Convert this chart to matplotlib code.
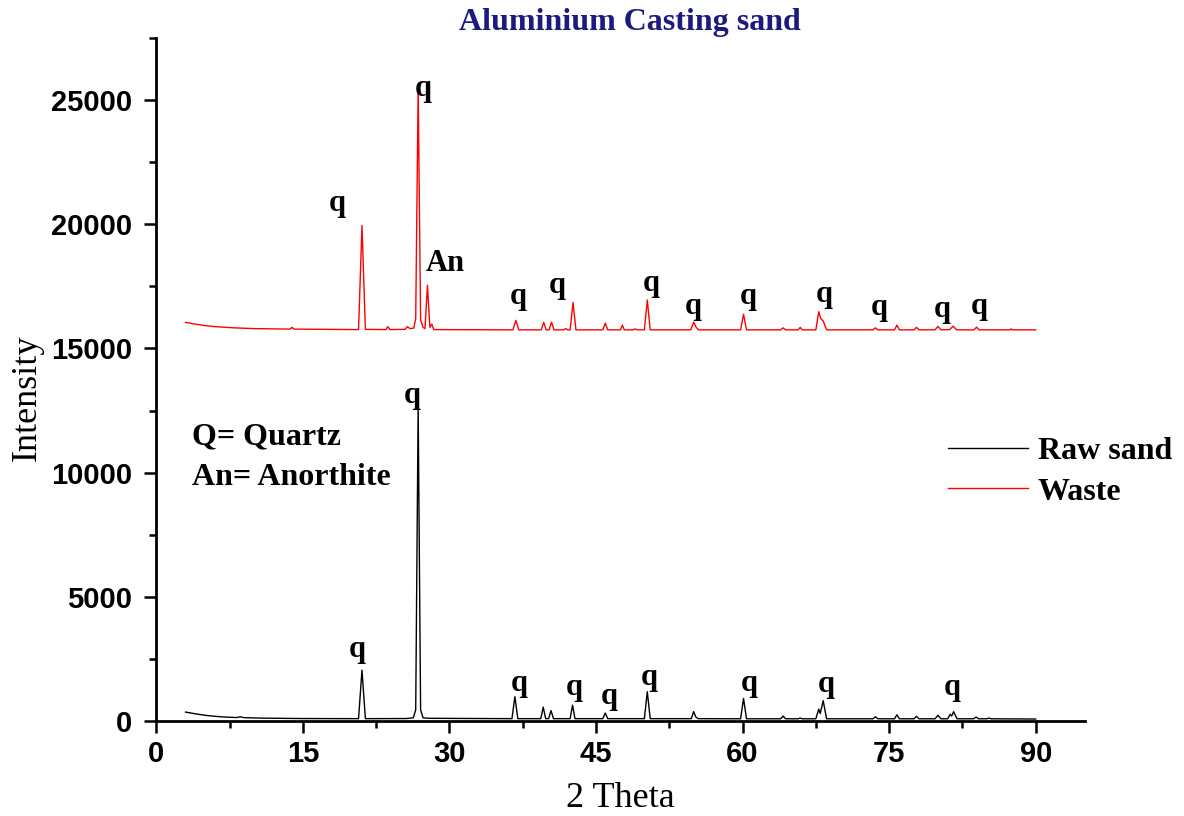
import matplotlib
matplotlib.use('Agg')
import matplotlib.pyplot as plt
from matplotlib.ticker import MultipleLocator

# XRD pattern of raw sand (black), vertices
raw_2theta = [3.0, 4.0, 5.0, 6.0, 7.0, 8.2, 8.6, 9.0, 11.0, 15.0,
              20.7, 21.05, 21.4, 25.6, 26.3, 26.55, 26.8, 27.05, 27.3, 27.8,
              36.4, 36.7, 37.0, 39.35, 39.6, 39.85, 40.15, 40.4, 40.65,
              42.35, 42.6, 42.85, 45.7, 45.95, 46.2, 49.95, 50.25, 50.55,
              54.75, 55.0, 55.2, 55.45, 59.8, 60.1, 60.4, 63.9, 64.15, 64.4,
              65.7, 65.9, 66.1, 67.5, 67.8, 67.95, 68.25, 68.6,
              73.35, 73.6, 73.85, 75.55, 75.8, 76.05, 77.55, 77.8, 78.05,
              79.7, 80.0, 80.3, 81.0, 81.25, 81.4, 81.6, 81.95,
              83.65, 83.9, 84.15, 85.0, 85.2, 85.4, 90.0]
raw_counts = [360, 290, 230, 190, 160, 140, 170, 135, 115, 100,
              95, 2050, 95, 100, 130, 450, 12700, 450, 130, 110,
              95, 980, 95, 95, 560, 95, 95, 420, 95,
              95, 640, 95, 95, 320, 95, 95, 1180, 95,
              95, 380, 170, 95, 90, 910, 90, 90, 200, 90,
              90, 120, 90, 90, 480, 300, 820, 90,
              90, 170, 90, 90, 250, 90, 90, 190, 90,
              90, 230, 90, 90, 270, 200, 375, 90,
              90, 160, 90, 90, 120, 90, 80]

# XRD pattern of the waste sand (red)
waste_2theta = [3.0, 4.0, 5.0, 6.0, 8.0, 10.0, 13.7, 13.9, 14.1,
                20.7, 21.05, 21.4, 23.5, 23.7, 23.9, 25.45, 25.7, 25.95,
                26.35, 26.55, 26.8, 27.05, 27.3, 27.5, 27.75, 28.0, 28.2, 28.4,
                36.5, 36.8, 37.1, 39.4, 39.65, 39.9, 40.2, 40.45, 40.7,
                41.7, 41.9, 42.1, 42.35, 42.65, 42.95, 45.7, 45.95, 46.2,
                47.5, 47.7, 47.9, 48.8, 49.0, 49.2, 49.95, 50.25, 50.55,
                54.7, 55.0, 55.25, 55.5, 59.8, 60.1, 60.4, 63.9, 64.15, 64.4,
                65.7, 65.9, 66.1, 67.5, 67.8, 68.0, 68.25, 68.6,
                73.35, 73.6, 73.85, 75.55, 75.8, 76.05, 77.55, 77.8, 78.05,
                79.7, 80.0, 80.3, 81.2, 81.55, 81.9, 83.7, 83.95, 84.2,
                87.4, 87.5, 87.6, 90.0]
waste_counts = [16050, 15980, 15920, 15880, 15830, 15800, 15780, 15850, 15780,
                15760, 19950, 15770, 15760, 15880, 15760, 15770, 15880, 15800,
                15820, 16200, 25500, 16150, 15850, 15800, 17550, 15850, 15980, 15760,
                15750, 16130, 15750, 15750, 16050, 15750, 15750, 16060, 15750,
                15750, 15800, 15750, 15750, 16850, 15750, 15750, 16020, 15750,
                15750, 15940, 15750, 15750, 15790, 15750, 15750, 16950, 15750,
                15750, 16060, 15850, 15750, 15750, 16380, 15750, 15750, 15830, 15750,
                15750, 15850, 15750, 15750, 16480, 16200, 16110, 15750,
                15750, 15830, 15750, 15750, 15940, 15750, 15750, 15850, 15750,
                15750, 15890, 15750, 15760, 15900, 15750, 15750, 15860, 15750,
                15750, 15790, 15750, 15750]

# phase labels (text, 2theta, intensity)
waste_labels = [('q', 18.55, 20855), ('q', 27.33, 25485), ('An', 29.59, 18440),
                ('q', 37.03, 17110), ('q', 41.03, 17550), ('q', 50.62, 17630),
                ('q', 54.91, 16700), ('q', 60.53, 17110), ('q', 68.40, 17190),
                ('q', 74.02, 16630), ('q', 80.46, 16550), ('q', 84.24, 16710)]
raw_labels = [('q', 26.21, 13125), ('q', 20.59, 2860), ('q', 37.14, 1530),
              ('q', 42.76, 1330), ('q', 46.33, 970), ('q', 50.41, 1770),
              ('q', 60.63, 1530), ('q', 68.60, 1490), ('q', 81.47, 1330)]

serif = ['Liberation Serif', 'DejaVu Serif']
sans = ['Liberation Sans', 'DejaVu Sans']

fig = plt.figure(figsize=(11.84, 8.16), dpi=100)
ax = fig.add_axes([0.132, 0.1164, 0.784, 0.837])

ax.plot(raw_2theta, raw_counts, color='black', lw=1.0, label='Raw sand')
ax.plot(waste_2theta, waste_counts, color='red', lw=1.0, label='Waste')

for txt, x, y in waste_labels + raw_labels:
    ax.text(x, y, txt, ha='center', va='center', fontsize=22,
            fontweight='bold', family=serif)

ax.text(3.7, 11435, 'Q= Quartz', ha='left', va='center', fontsize=23,
        fontweight='bold', family=serif)
ax.text(3.7, 9825, 'An= Anorthite', ha='left', va='center', fontsize=23,
        fontweight='bold', family=serif)

ax.set_xlim(0, 95)
ax.set_ylim(0, 27500)
ax.xaxis.set_major_locator(MultipleLocator(15))
ax.xaxis.set_minor_locator(MultipleLocator(7.5))
ax.yaxis.set_major_locator(MultipleLocator(5000))
ax.yaxis.set_minor_locator(MultipleLocator(2500))

for s in ['top', 'right']:
    ax.spines[s].set_visible(False)
for s in ['left', 'bottom']:
    ax.spines[s].set_linewidth(2.0)

ax.tick_params(which='major', direction='out', length=8.5, width=1.8)
ax.tick_params(which='minor', direction='out', length=5, width=1.8)
ax.tick_params(axis='y', which='major', pad=9)
ax.tick_params(axis='x', which='major', pad=5)
for lab in ax.get_xticklabels() + ax.get_yticklabels():
    lab.set_fontfamily(sans)
    lab.set_fontweight('bold')
    lab.set_fontsize(21)

ax.set_xlabel('2 Theta', fontsize=26, family=serif)
ax.xaxis.set_label_coords(0.5, -0.089)
fig.text(27 / 1184, 1 - 398 / 816, 'Intensity', rotation=90, ha='center',
         va='center', fontsize=26, family=serif)

fig.text(0.532, 0.973, 'Aluminium Casting sand', ha='center', va='center',
         fontsize=23, fontweight='bold', color='#1a1a80', family=serif)

leg = ax.legend(loc='center left', bbox_to_anchor=(0.853, 0.365), frameon=False,
                prop={'family': serif, 'weight': 'bold', 'size': 23},
                handlelength=2.5, handletextpad=0.3, labelspacing=0.35,
                borderpad=0, borderaxespad=0)

plt.savefig('out.png', dpi=100)
